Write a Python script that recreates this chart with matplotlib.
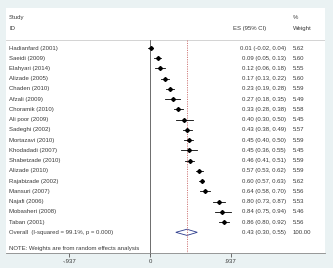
import matplotlib
matplotlib.use('Agg')
import matplotlib.pyplot as plt

studies = ['Hadianfard (2001)', 'Saeidi (2009)', 'Elahyari (2014)', 'Alizade (2005)',
           'Chaden (2010)', 'Afzali (2009)', 'Choramik (2010)', 'Ali poor (2009)',
           'Sadeghi (2002)', 'Mortazavi (2010)', 'Khodadadi (2007)', 'Shabetzade (2010)',
           'Alizade (2010)', 'Rajabizade (2002)', 'Mansuri (2007)', 'Najafi (2006)',
           'Mobasheri (2008)', 'Taban (2001)']
es = [0.01, 0.09, 0.12, 0.17, 0.23, 0.27, 0.33, 0.40, 0.43,
      0.45, 0.45, 0.46, 0.57, 0.60, 0.64, 0.80, 0.84, 0.86]
lo = [-0.02, 0.05, 0.06, 0.13, 0.19, 0.18, 0.28, 0.30, 0.38,
      0.40, 0.36, 0.41, 0.53, 0.57, 0.58, 0.73, 0.75, 0.80]
hi = [0.04, 0.13, 0.18, 0.22, 0.28, 0.35, 0.38, 0.50, 0.49,
      0.50, 0.55, 0.51, 0.62, 0.63, 0.70, 0.87, 0.94, 0.92]
weights = [5.62, 5.60, 5.55, 5.60, 5.59, 5.49, 5.58, 5.45, 5.57,
           5.59, 5.45, 5.59, 5.59, 5.62, 5.56, 5.53, 5.46, 5.56]
overall_es, overall_lo, overall_hi = 0.43, 0.30, 0.55
overall_label = 'Overall  (I-squared = 99.1%, p = 0.000)'
note = 'NOTE: Weights are from random effects analysis'
xticks = [-0.937, 0, 0.937]
xticklabels = ['-.937', '0', '.937']

plt.rcParams['font.family'] = ['Liberation Sans', 'DejaVu Sans']
txt = '#3a3a3a'
fs = 4.3

fig = plt.figure(figsize=(3.33, 2.68), dpi=100, facecolor='#eaf2f3')
ax = fig.add_axes([6 / 333, 15 / 268, 319 / 333, 245 / 268], facecolor='white')

# x: 0 at 150px, 86 px per unit ; y: row 1 at 48px, 10.24 px per row
ax.set_xlim((6 - 150) / 86, (325 - 150) / 86)
ax.set_ylim(1 + (253 - 48) / 10.24, 1 - 40 / 10.24)

top = 0.22
ax.axhline(top, color='#cccccc', lw=0.6)
ax.plot([0, 0], [top, 21.1], color='#555555', lw=0.6, clip_on=False)
ax.plot([overall_es, overall_es], [top, 21.1], color='#d07a7a', lw=0.7, ls=(0, (1.2, 1.2)))

col_es = (286 - 150) / 86
col_w = (293 - 150) / 86
col_id = (9 - 150) / 86

for i, name in enumerate(studies):
    y = i + 1
    ax.plot([lo[i], hi[i]], [y, y], color='black', lw=0.6)
    ax.plot(es[i], y, marker='D', ms=2.0, color='black')
    ax.text(col_id, y, name, fontsize=fs, color=txt, va='center')
    ax.text(col_es, y, '%.2f (%.2f, %.2f)' % (es[i], lo[i], hi[i]), fontsize=fs, color=txt,
            va='center', ha='right')
    ax.text(col_w, y, '%.2f' % weights[i], fontsize=fs, color=txt, va='center')

yo = len(studies) + 1
h = 0.3
ax.fill([overall_lo, overall_es, overall_hi, overall_es, overall_lo],
        [yo, yo - h, yo, yo + h, yo], facecolor='none', edgecolor='#2a3a8c', lw=0.6)
ax.text(col_id, yo, overall_label, fontsize=fs, color=txt, va='center')
ax.text(col_es, yo, '%.2f (%.2f, %.2f)' % (overall_es, overall_lo, overall_hi), fontsize=fs,
        color=txt, va='center', ha='right')
ax.text(col_w, yo, '%.2f' % sum(weights), fontsize=fs, color=txt, va='center')
ax.text(col_id, yo + 1.55, note, fontsize=fs, color=txt, va='center')

ax.text(col_id, -1.93, 'Study', fontsize=fs, color=txt, va='center')
ax.text(col_id, -0.95, 'ID', fontsize=fs, color=txt, va='center')
ax.text((233 - 150) / 86, -0.95, 'ES (95% CI)', fontsize=fs, color=txt, va='center')
ax.text(col_w, -1.93, '%', fontsize=fs, color=txt, va='center')
ax.text(col_w, -0.95, 'Weight', fontsize=fs, color=txt, va='center')

for s in ['top', 'left', 'right']:
    ax.spines[s].set_visible(False)
ax.spines['bottom'].set_color('#888888')
ax.spines['bottom'].set_linewidth(0.6)
ax.set_yticks([])
ax.set_xticks(xticks)
ax.set_xticklabels(xticklabels)
ax.tick_params(axis='x', length=3, width=0.6, color='#555555', labelsize=fs, labelcolor=txt, pad=1.5)

fig.savefig('out.png', dpi=100, facecolor=fig.get_facecolor())
